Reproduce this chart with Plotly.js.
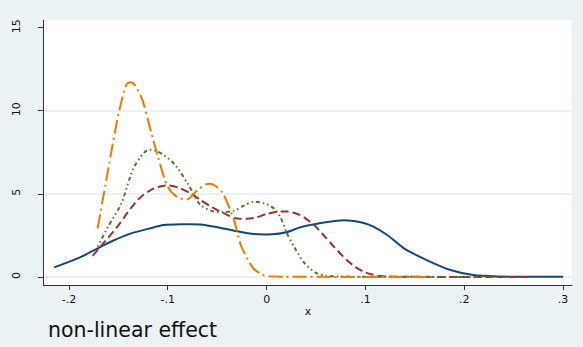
<!DOCTYPE html>
<html>
<head>
<meta charset="utf-8">
<script src="https://cdn.plot.ly/plotly-3.0.1.min.js"></script>
<style>html,body{margin:0;padding:0;background:#eaf2f3;}#chart{width:583px;height:347px;}</style>
</head>
<body>
<div id="chart"></div>
<script>
// ---- data ----
const blueX = [-0.215,-0.19,-0.171,-0.155,-0.137,-0.12,-0.104,-0.085,-0.067,-0.05,-0.033,-0.015,0.005,0.02,0.034,0.055,0.075,0.088,0.1,0.108,0.122,0.139,0.162,0.186,0.209,0.236,0.26,0.3];
const blueY = [0.58,1.15,1.73,2.2,2.63,2.9,3.13,3.18,3.17,3.0,2.79,2.6,2.57,2.7,2.99,3.25,3.41,3.37,3.22,3.03,2.53,1.73,1.02,0.42,0.12,0.03,0.02,0.02];

const redX = [-0.176,-0.165,-0.151,-0.138,-0.127,-0.114,-0.102,-0.09,-0.077,-0.067,-0.055,-0.043,-0.03,-0.013,0.0,0.01,0.021,0.034,0.048,0.058,0.068,0.081,0.09,0.098,0.107,0.115,0.13,0.16,0.2,0.24,0.264];
const redY = [1.28,2.05,3.03,4.1,4.84,5.34,5.52,5.4,5.04,4.64,4.2,3.83,3.53,3.55,3.8,3.92,3.94,3.73,3.13,2.5,1.83,1.02,0.6,0.32,0.15,0.06,0.02,0.01,0.0,0.0,0.0];

const greenX = [-0.171,-0.16,-0.147,-0.134,-0.1205,-0.11,-0.094,-0.08,-0.067,-0.053,-0.043,-0.033,-0.023,-0.013,0.001,0.008,0.014,0.02,0.028,0.038,0.05,0.06,0.068,0.1,0.15,0.2,0.23];
const greenY = [1.83,3.07,4.44,6.64,7.65,7.55,6.85,5.64,4.34,3.94,3.9,4.0,4.3,4.54,4.37,4.1,3.6,2.7,1.8,0.85,0.25,0.08,0.04,0.02,0.01,0.0,0.0];

const orangeX = [-0.171,-0.161,-0.149,-0.1407,-0.1357,-0.127,-0.117,-0.11,-0.1,-0.09,-0.08,-0.07,-0.06,-0.053,-0.045,-0.04,-0.033,-0.026,-0.018,-0.013,-0.005,0.001,0.02,0.06,0.1,0.14,0.17];
const orangeY = [2.93,6.25,10.06,11.67,11.7,10.86,8.75,7.25,5.44,4.8,4.68,5.24,5.6,5.54,5.1,4.5,3.43,1.9,0.95,0.5,0.15,0.06,0.02,0.01,0.0,0.0,0.0];

const xTickVals = [-0.2,-0.1,0,0.1,0.2,0.3];
const xTickText = ['-.2','-.1','0','.1','.2','.3'];
const yTickVals = [0,5,10,15];
const yTickText = ['0','5','10','15'];
const gridVals = [0,5,10];

const FONT = 'DejaVu Sans, Liberation Sans, Arial, sans-serif';

function tr(x, y, color, dash) {
  return {x: x, y: y, type: 'scatter', mode: 'lines',
    line: {color: color, width: 2, dash: dash, shape: 'spline', smoothing: 0.8},
    hoverinfo: 'skip', showlegend: false};
}

const data = [
  tr(blueX, blueY, '#1a476f', 'solid'),
  tr(redX, redY, '#90353b', '8px,4px'),
  tr(greenX, greenY, '#55752f', '1.5px,3px,1.5px,3px,4px,3px'),
  tr(orangeX, orangeY, '#e37e00', '14px,4px,2px,4px')
];

const layout = {
  width: 583, height: 347,
  paper_bgcolor: '#eaf2f3', plot_bgcolor: '#ffffff',
  margin: {l: 44, r: 11, t: 20, b: 62},
  font: {family: FONT, size: 11, color: '#111'},
  xaxis: {
    range: [-0.2253, 0.309], tickvals: xTickVals, ticktext: xTickText,
    showgrid: false, zeroline: false, showline: true, linecolor: '#333', linewidth: 1,
    ticks: 'outside', ticklen: 4, tickcolor: '#333',
    tickfont: {family: FONT, size: 11, color: '#111'},
    title: {text: 'x', font: {family: FONT, size: 11, color: '#111'}, standoff: 2}
  },
  yaxis: {
    range: [-0.48, 15.48], tickvals: yTickVals, ticktext: yTickText,
    showgrid: false, zeroline: false, showline: true, linecolor: '#333', linewidth: 1,
    ticks: 'outside', ticklen: 5, tickcolor: '#333', tickangle: -90,
    ticklabelstandoff: 14,
    tickfont: {family: FONT, size: 11, color: '#111'}
  },
  shapes: gridVals.map(v => ({type: 'line', xref: 'paper', x0: 0, x1: 1, yref: 'y', y0: v, y1: v,
    layer: 'below', line: {color: '#e3ecee', width: 1.5}})),
  annotations: [{
    text: 'non-linear effect', xref: 'paper', yref: 'paper', x: 0.003, y: -0.17,
    xanchor: 'left', yanchor: 'middle', showarrow: false,
    font: {family: FONT, size: 20.5, color: '#111'}
  }]
};

Plotly.newPlot('chart', data, layout, {displayModeBar: false, staticPlot: true});
</script>
</body>
</html>
